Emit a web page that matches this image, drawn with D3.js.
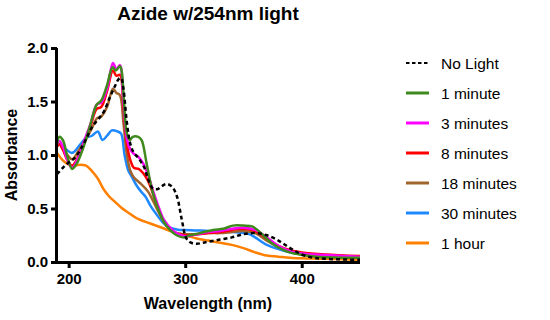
<!DOCTYPE html>
<html><head><meta charset="utf-8">
<script src="https://cdn.jsdelivr.net/npm/d3@7"></script>
<style>body{margin:0;background:#fff}svg{display:block}</style>
</head><body>
<svg id="chart" width="550" height="320"></svg>
<script>
const seriesNames = ["No Light","1 minute","3 minutes","8 minutes","18 minutes","30 minutes","1 hour"];
const seriesColors = ["#000000","#3f8a1c","#ff00ff","#ff0000","#a0642c","#1e88ff","#ff8000"];
const xTicks = [200,300,400];
const yTicks = [0,0.5,1.0,1.5,2.0];

const noLight = [[190,0.82],[195,0.88],[200,0.93],[205,0.97],[210,1.05],[215,1.15],[220,1.26],[225,1.33],[230,1.40],[235,1.53],[240,1.65],[243,1.71],[245,1.72],[247,1.62],[250,1.3],[253,1.1],[256,1.02],[260,0.97],[265,0.88],[268,0.78],[272,0.69],[276,0.68],[280,0.71],[284,0.73],[289,0.70],[293,0.61],[297,0.40],[301,0.22],[305,0.18],[310,0.17],[315,0.18],[320,0.19],[330,0.21],[340,0.23],[350,0.26],[360,0.27],[370,0.25],[380,0.20],[390,0.13],[400,0.07],[410,0.04],[420,0.03],[450,0.02]];
const min1 = [[190,1.10],[192,1.17],[195,1.14],[199,0.98],[203,0.87],[207,0.92],[212.6,1.07],[218,1.26],[224,1.47],[228,1.51],[232.6,1.64],[237.7,1.82],[240.5,1.79],[244,1.83],[245.4,1.79],[247.4,1.51],[250,1.2],[252.6,1.14],[255,1.17],[259.7,1.17],[262.6,1.14],[266.9,0.92],[271,0.70],[275,0.55],[281,0.39],[287,0.30],[292.6,0.25],[299,0.23],[304,0.25],[312.6,0.27],[324,0.30],[332.6,0.31],[341,0.34],[349.7,0.34],[358,0.33],[367,0.25],[375,0.17],[387,0.10],[398,0.07],[412.6,0.05],[450,0.04]];
const min3 = [[190,1.10],[192,1.13],[195,1.08],[199,0.95],[203,0.88],[208,0.97],[214,1.15],[219,1.30],[224,1.47],[228,1.49],[233,1.62],[238,1.86],[241,1.80],[244,1.84],[247,1.50],[250,1.15],[253,1.05],[256,1.01],[260,0.98],[264,0.92],[268,0.82],[272,0.68],[277,0.52],[282,0.39],[290,0.29],[300,0.24],[310,0.26],[320,0.28],[330,0.29],[340,0.31],[350,0.32],[360,0.30],[370,0.23],[380,0.15],[390,0.10],[400,0.08],[420,0.065],[450,0.05]];
const min8 = [[190,1.08],[192,1.10],[195,1.05],[199,0.95],[203,0.90],[208,0.98],[214,1.14],[219,1.28],[224,1.43],[228,1.45],[233,1.60],[238,1.79],[241,1.74],[244,1.75],[247,1.45],[250,1.10],[253,0.95],[256,0.88],[260,0.87],[264,0.83],[268,0.76],[272,0.65],[277,0.50],[282,0.38],[290,0.28],[300,0.25],[310,0.26],[320,0.27],[330,0.28],[340,0.30],[350,0.31],[360,0.29],[370,0.22],[380,0.15],[390,0.11],[400,0.09],[420,0.07],[450,0.055]];
const min18 = [[190,1.08],[192,1.10],[195,1.06],[199,1.0],[203,0.96],[209,1.05],[215,1.15],[220,1.25],[224,1.34],[228,1.36],[233,1.45],[238,1.62],[241,1.58],[244,1.56],[247,1.30],[250,1.00],[253,0.85],[256,0.79],[262,0.73],[268,0.66],[272,0.58],[277,0.47],[282,0.37],[290,0.28],[300,0.26],[310,0.26],[320,0.27],[330,0.27],[340,0.28],[350,0.29],[360,0.27],[370,0.20],[380,0.14],[390,0.10],[400,0.08],[420,0.06],[450,0.05]];
const min30 = [[190,1.09],[192,1.10],[198,1.05],[203,1.02],[210,1.10],[215,1.16],[220,1.18],[225,1.22],[229,1.14],[233,1.18],[237,1.23],[242,1.22],[245,1.20],[248,1.00],[251,0.86],[254,0.80],[258,0.72],[262,0.66],[266,0.61],[270,0.53],[275,0.45],[280,0.38],[285,0.33],[295,0.30],[300,0.30],[320,0.29],[340,0.28],[350,0.27],[355,0.26],[360,0.23],[370,0.16],[380,0.12],[390,0.09],[400,0.075],[420,0.06],[450,0.05]];
const hour1 = [[190,1.02],[195,0.95],[200,0.91],[205,0.90],[210,0.91],[215,0.90],[220,0.85],[225,0.78],[230,0.68],[235,0.61],[240,0.56],[245,0.51],[250,0.47],[260,0.40],[270,0.36],[280,0.32],[290,0.28],[300,0.25],[310,0.22],[320,0.20],[330,0.18],[340,0.16],[350,0.13],[360,0.09],[370,0.06],[380,0.05],[390,0.04],[400,0.035],[420,0.03],[450,0.02]];

const seriesData = [noLight,min1,min3,min8,min18,min30,hour1];

const svg = d3.select("#chart");
const font = "'Liberation Sans', Arial, Helvetica, sans-serif";
const m = {left:57, right:360, top:48, bottom:262};
const x = d3.scaleLinear().domain([190,450]).range([m.left, m.right]);
const y = d3.scaleLinear().domain([0,2]).range([m.bottom, m.top]);

svg.append("defs").append("clipPath").attr("id","clip")
  .append("rect").attr("x",m.left).attr("y",m.top-10).attr("width",m.right-m.left).attr("height",m.bottom-m.top+10);

const line = d3.line().x(d=>x(d[0])).y(d=>y(d[1])).curve(d3.curveCatmullRom.alpha(0.5));

const g = svg.append("g").attr("clip-path","url(#clip)");
for (let i = seriesData.length-1; i >= 1; i--) {
  g.append("path").datum(seriesData[i]).attr("d",line)
    .attr("fill","none").attr("stroke",seriesColors[i]).attr("stroke-width",2.5)
    .attr("stroke-linejoin","round");
}
g.append("path").datum(seriesData[0]).attr("d",line)
  .attr("fill","none").attr("stroke",seriesColors[0]).attr("stroke-width",2.5)
  .attr("stroke-dasharray","4,3");

const xAxis = svg.append("g").attr("transform",`translate(0,${m.bottom})`)
  .call(d3.axisBottom(x).tickValues(xTicks).tickSize(6).tickSizeOuter(0).tickPadding(5).tickFormat(d3.format("d")));
const yAxis = svg.append("g").attr("transform",`translate(${m.left},0)`)
  .call(d3.axisLeft(y).tickValues(yTicks).tickSize(6).tickSizeOuter(0).tickPadding(3).tickFormat(d3.format(".1f")));
[xAxis,yAxis].forEach(a=>{
  a.select(".domain").attr("stroke","#000").attr("stroke-width",3);
  a.selectAll(".tick line").attr("stroke","#000").attr("stroke-width",3);
  a.selectAll(".tick text").attr("fill","#000").style("font-family",font).style("font-size","15px").style("font-weight","bold");
});
xAxis.select(".domain").attr("d",`M${m.left-1.5},0.5H${m.right}`);
yAxis.select(".domain").attr("d",`M-0.5,${m.bottom+1.5}V${m.top}`);

svg.append("text").attr("x",208).attr("y",20).attr("text-anchor","middle")
  .style("font-family",font).style("font-size","19px").style("font-weight","bold").text("Azide w/254nm light");
svg.append("text").attr("x",208).attr("y",309).attr("text-anchor","middle")
  .style("font-family",font).style("font-size","16px").style("font-weight","bold").text("Wavelength (nm)");
svg.append("text").attr("transform","translate(17,155) rotate(-90)").attr("text-anchor","middle")
  .style("font-family",font).style("font-size","16px").style("font-weight","bold").text("Absorbance");

const leg = svg.append("g");
seriesNames.forEach((n,i)=>{
  const yy = 63 + i*30;
  leg.append("line").attr("x1",406).attr("x2",429).attr("y1",yy).attr("y2",yy)
    .attr("stroke",seriesColors[i]).attr("stroke-width",i===0?2:3)
    .attr("stroke-dasharray",i===0?"3.5,2.5":null);
  leg.append("text").attr("x",441).attr("y",yy+5.5)
    .style("font-family",font).style("font-size","15.5px").attr("fill","#000").text(n);
});
</script>
</body></html>
